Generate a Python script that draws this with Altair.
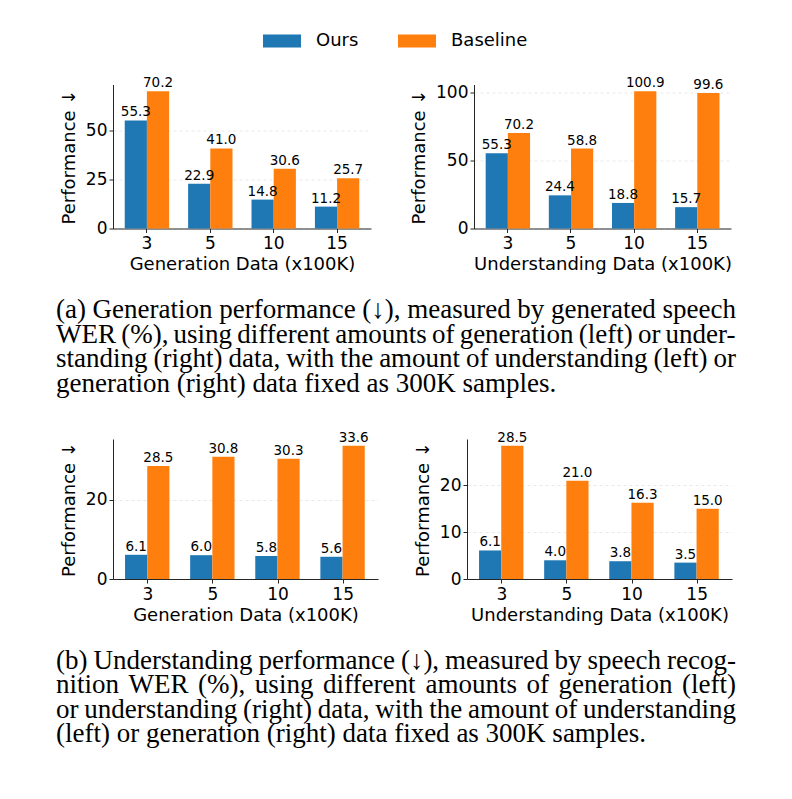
import altair as alt
import pandas as pd

categories = ["3", "5", "10", "15"]
series = ["Ours", "Baseline"]
colors = ["#1f77b4", "#ff7f0e"]

gen_a_ours = [55.3, 22.9, 14.8, 11.2]
gen_a_base = [70.2, 41.0, 30.6, 25.7]
und_a_ours = [55.3, 24.4, 18.8, 15.7]
und_a_base = [70.2, 58.8, 100.9, 99.6]
gen_b_ours = [6.1, 6.0, 5.8, 5.6]
gen_b_base = [28.5, 30.8, 30.3, 33.6]
und_b_ours = [6.1, 4.0, 3.8, 3.5]
und_b_base = [28.5, 21.0, 16.3, 15.0]

ticks_a_gen = [0, 25, 50]
ticks_a_und = [0, 50, 100]
ticks_b_gen = [0, 20]
ticks_b_und = [0, 10, 20]

caption_a = [
    "(a) Generation performance (\u2193), measured by generated speech",
    "WER (%), using different amounts of generation (left) or under-",
    "standing (right) data, with the amount of understanding (left) or",
    "generation (right) data fixed as 300K samples.",
]
caption_b = [
    "(b) Understanding performance (\u2193), measured by speech recog-",
    "nition WER (%), using different amounts of generation (left)",
    "or understanding (right) data, with the amount of understanding",
    "(left) or generation (right) data fixed as 300K samples.",
]

AXIS_COLOR = "#262626"
CAPTION_FONT_SIZE = 27
CAPTION_WIDTH = 680

# Times / Liberation Serif advance widths (em/1000), used to justify caption lines
_W = {" ": 250, "(": 333, ")": 333, ",": 250, ".": 250, "-": 333, "%": 833,
      "\u2193": 500, "0": 500, "1": 500, "2": 500, "3": 500, "4": 500, "5": 500,
      "6": 500, "7": 500, "8": 500, "9": 500,
      "A": 722, "B": 667, "C": 667, "D": 722, "E": 611, "F": 556, "G": 722,
      "H": 722, "I": 333, "J": 389, "K": 722, "L": 611, "M": 889, "N": 722,
      "O": 722, "P": 556, "Q": 722, "R": 667, "S": 556, "T": 611, "U": 722,
      "V": 722, "W": 944, "X": 722, "Y": 722, "Z": 611,
      "a": 444, "b": 500, "c": 444, "d": 500, "e": 444, "f": 333, "g": 500,
      "h": 500, "i": 278, "j": 278, "k": 500, "l": 278, "m": 778, "n": 500,
      "o": 500, "p": 500, "q": 500, "r": 333, "s": 389, "t": 278, "u": 500,
      "v": 500, "w": 722, "x": 500, "y": 500, "z": 444}


def word_width(w):
    return sum(_W.get(ch, 500) for ch in w) / 1000.0 * CAPTION_FONT_SIZE


def panel(ours, base, xtitle, ticks, width, height):
    rows = []
    for c, o, b in zip(categories, ours, base):
        rows.append({"cat": c, "series": "Ours", "value": o, "label": f"{o:.1f}"})
        rows.append({"cat": c, "series": "Baseline", "value": b, "label": f"{b:.1f}"})
    df = pd.DataFrame(rows)
    ymax = max(ours + base) * 1.05
    enc = alt.Chart(df).encode(
        x=alt.X(
            "cat:N",
            sort=categories,
            scale=alt.Scale(paddingInner=0.3, paddingOuter=0.185),
            axis=alt.Axis(
                title=xtitle,
                labelAngle=0,
                labelFontSize=17,
                titleFontSize=18,
                titleFontWeight="normal",
                titlePadding=4,
                labelPadding=3,
                tickSize=4,
                grid=False,
                domainColor=AXIS_COLOR,
                tickColor=AXIS_COLOR,
                labelColor="#000000",
                titleColor="#000000",
            ),
        ),
        xOffset=alt.XOffset(
            "series:N", sort=series, scale=alt.Scale(paddingInner=0, paddingOuter=0)
        ),
        y=alt.Y(
            "value:Q",
            scale=alt.Scale(domain=[0, ymax], nice=False, zero=True),
            axis=alt.Axis(
                title="Performance \u2193",
                values=ticks,
                labelFontSize=17,
                titleFontSize=18,
                titleFontWeight="normal",
                titlePadding=7,
                labelPadding=2,
                tickSize=4,
                grid=True,
                gridDash=[3, 3],
                gridColor="#e3e3e3",
                gridWidth=0.8,
                domainColor=AXIS_COLOR,
                tickColor=AXIS_COLOR,
                labelColor="#000000",
                titleColor="#000000",
            ),
        ),
    )
    bars = enc.mark_bar(strokeWidth=0).encode(
        color=alt.Color(
            "series:N",
            sort=series,
            scale=alt.Scale(domain=series, range=colors),
            legend=alt.Legend(
                title=None,
                orient="none",
                direction="horizontal",
                legendX=150,
                legendY=-62.5,
                symbolType="M-1,-0.34H1V0.34H-1Z",
                symbolSize=1444,
                symbolStrokeWidth=0,
                labelFontSize=18,
                labelOffset=15,
                columnPadding=39,
                labelColor="#000000",
                padding=0,
            ),
        )
    )
    labels = enc.mark_text(
        baseline="alphabetic", dy=-4, fontSize=13.5, color="#000000"
    ).encode(text="label:N")
    return (bars + labels).properties(width=width, height=height)


def caption(lines, width):
    rows = []
    for i, line in enumerate(lines):
        words = line.split(" ")
        widths = [word_width(w) for w in words]
        if i < len(lines) - 1 and len(words) > 1:
            gap = (CAPTION_WIDTH - sum(widths)) / (len(words) - 1)
        else:
            gap = word_width(" ")
        pos = 0.0
        for w, ww in zip(words, widths):
            rows.append({"line": i, "word": w, "pos": pos})
            pos += ww + gap
    df = pd.DataFrame(rows)
    return (
        alt.Chart(df)
        .mark_text(
            align="left",
            baseline="alphabetic",
            dy=7,
            font="Liberation Serif",
            fontSize=CAPTION_FONT_SIZE,
            color="#000000",
        )
        .encode(
            x=alt.X(
                "pos:Q",
                axis=None,
                scale=alt.Scale(domain=[0, CAPTION_WIDTH], range=[-57, CAPTION_WIDTH - 57]),
            ),
            y=alt.Y("line:O", axis=None, scale=alt.Scale(paddingInner=0, paddingOuter=0)),
            text="word:N",
        )
        .properties(width=width, height=98)
    )


row_a = alt.hconcat(
    panel(gen_a_ours, gen_a_base, "Generation Data (x100K)", ticks_a_gen, 258, 144),
    panel(und_a_ours, und_a_base, "Understanding Data (x100K)", ticks_a_und, 257, 144),
    spacing=39,
)
row_b = alt.hconcat(
    panel(gen_b_ours, gen_b_base, "Generation Data (x100K)", ticks_b_gen, 265, 140),
    panel(und_b_ours, und_b_base, "Understanding Data (x100K)", ticks_b_und, 265, 140),
    spacing=36,
)

block_a = alt.vconcat(row_a, caption(caption_a, 600), spacing=22.5)
block_b = alt.vconcat(row_b, caption(caption_b, 600), spacing=22.5)

chart = (
    alt.vconcat(block_a, block_b, spacing=32.5)
    .properties(padding={"left": 48, "top": 13.5, "right": 0, "bottom": 0})
    .configure(font="DejaVu Sans")
    .configure_view(stroke=None)
)

chart.save("out.html", embed_options={"renderer": "svg", "actions": False})
